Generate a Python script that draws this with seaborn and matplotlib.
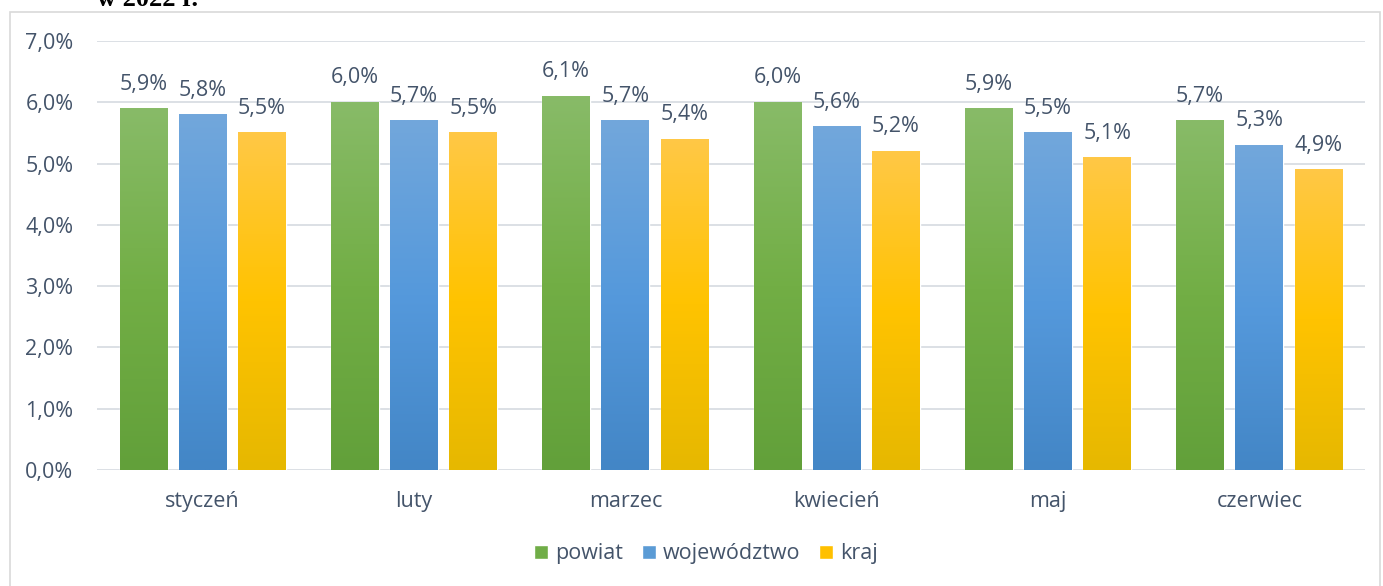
import numpy as np
import pandas as pd
import matplotlib
matplotlib.use("Agg")
import matplotlib.pyplot as plt
import seaborn as sns
from matplotlib.colors import LinearSegmentedColormap
from matplotlib.patches import Rectangle

months = ["styczeń", "luty", "marzec", "kwiecień", "maj", "czerwiec"]
series = ["powiat", "województwo", "kraj"]
powiat = [5.9, 6.0, 6.1, 6.0, 5.9, 5.7]
wojewodztwo = [5.8, 5.7, 5.7, 5.6, 5.5, 5.3]
kraj = [5.5, 5.5, 5.4, 5.2, 5.1, 4.9]
yticks = [0, 1, 2, 3, 4, 5, 6, 7]

colors = {"powiat": "#70AD47", "województwo": "#5B9BD5", "kraj": "#FFC000"}
grads = {
    "powiat": ["#62A03A", "#72AE45", "#88BB68"],
    "województwo": ["#4386C6", "#5599DC", "#72A7DB"],
    "kraj": ["#E6B800", "#FFC300", "#FFC846"],
}

df = pd.DataFrame({
    "miesiąc": months * 3,
    "seria": [s for s in series for _ in months],
    "wartość": powiat + wojewodztwo + kraj,
})

sns.set_theme(style="white")
plt.rcParams["font.family"] = ["Open Sans", "DejaVu Sans"]
txt = "#44546A"
fs = 15.5

fig = plt.figure(figsize=(13.83, 5.86), dpi=100)
ax = fig.add_axes([97 / 1383, 1 - 470 / 586, (1365 - 97) / 1383, (470 - 41) / 586])

sns.barplot(data=df, x="miesiąc", y="wartość", hue="seria", order=months,
            hue_order=series, palette=colors, width=0.84, gap=0.19,
            ax=ax, legend=True, saturation=1)

# gradient fill
for cont, s in zip(ax.containers, series):
    cmap = LinearSegmentedColormap.from_list(s, grads[s])
    for p in cont.patches:
        x0, y0 = p.get_x(), p.get_y()
        w, h = p.get_width(), p.get_height()
        grad = np.linspace(0, 1, 256).reshape(-1, 1)
        ax.imshow(grad, extent=(x0, x0 + w, y0, y0 + h), origin="lower",
                  cmap=cmap, aspect="auto", zorder=3)
        p.set_zorder(2)
    labels = [f"{v:.1f}%".replace(".", ",") for v in cont.datavalues]
    ax.bar_label(cont, labels=labels, padding=10, fontsize=fs, color=txt)

ax.set_xlim(-0.5, 5.5)
ax.set_ylim(0, 7)
ax.set_yticks(yticks)
ax.set_yticklabels([f"{t},0%" for t in yticks], fontsize=fs, color=txt)
ax.tick_params(axis="x", labelsize=fs, colors=txt, pad=15, length=0)
ax.tick_params(axis="y", pad=17, length=0)
ax.set_xlabel("")
ax.set_ylabel("")
ax.grid(axis="y", color="#D9DDE3", linewidth=1.3, zorder=0)
ax.set_axisbelow(True)
for sp in ax.spines.values():
    sp.set_visible(False)

leg = ax.legend(loc="center", bbox_to_anchor=((706 - 97) / 1268, (470 - 554) / (470 - 41)),
                ncol=3, frameon=False, fontsize=fs, handlelength=0.65,
                handleheight=0.65, handletextpad=0.3, columnspacing=0.9)
for t in leg.get_texts():
    t.set_color(txt)

fig.patches.append(Rectangle((10 / 1383, -0.01), 1370 / 1383, 1 - 12 / 586 + 0.01,
                             transform=fig.transFigure, fill=False,
                             edgecolor="#D9D9D9", linewidth=1.2))
fig.text(97 / 1383, 1 - 6 / 586, "w 2022 r.", fontsize=19, fontweight="bold",
         family="Liberation Serif", color="black", va="baseline")

fig.savefig("out.png", dpi=100, facecolor="white")
